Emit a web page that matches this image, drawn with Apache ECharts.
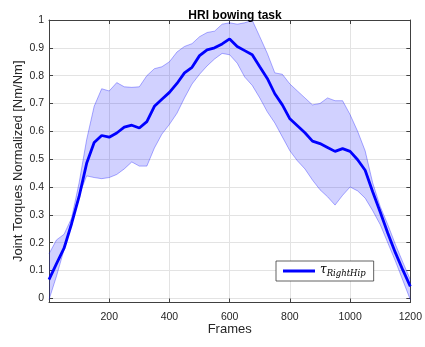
<!DOCTYPE html>
<html>
<head>
<meta charset="utf-8">
<script src="https://cdn.jsdelivr.net/npm/echarts@6/dist/echarts.min.js"></script>
<style>
  html, body { margin: 0; padding: 0; background: #ffffff; }
  #chart { width: 425px; height: 347px; }
</style>
</head>
<body>
<div id="chart"></div>
<script>
// Frame index of each sample
const frames = [0, 25, 50, 75, 100, 125, 150, 175, 200, 225, 250, 275, 300, 325, 350, 375,
  400, 425, 450, 475, 500, 525, 550, 575, 600, 625, 650, 675, 700, 725, 750, 775,
  800, 825, 850, 875, 900, 925, 950, 975, 1000, 1025, 1050, 1075, 1100, 1125, 1150, 1175, 1200];

// Mean normalized right-hip torque
const meanTorque = [0.067, 0.125, 0.180, 0.268, 0.366, 0.485, 0.560, 0.585, 0.579, 0.594, 0.615, 0.622, 0.612, 0.635, 0.690, 0.715,
  0.740, 0.772, 0.810, 0.830, 0.872, 0.893, 0.900, 0.914, 0.932, 0.905, 0.890, 0.875, 0.832, 0.790, 0.735, 0.695,
  0.645, 0.620, 0.595, 0.565, 0.556, 0.542, 0.528, 0.538, 0.528, 0.498, 0.460, 0.383, 0.310, 0.235, 0.165, 0.102, 0.043];

// Upper and lower edges of the spread band
const upperBound = [0.160, 0.210, 0.230, 0.288, 0.415, 0.570, 0.690, 0.753, 0.745, 0.775, 0.760, 0.758, 0.760, 0.800, 0.825, 0.832,
  0.850, 0.885, 0.905, 0.915, 0.940, 0.955, 0.960, 0.985, 0.990, 0.985, 0.990, 0.999, 0.940, 0.880, 0.810, 0.805,
  0.770, 0.745, 0.720, 0.695, 0.700, 0.720, 0.710, 0.710, 0.660, 0.600, 0.530, 0.415, 0.330, 0.265, 0.195, 0.130, 0.067];

const lowerBound = [-0.005, 0.080, 0.175, 0.280, 0.370, 0.440, 0.434, 0.430, 0.434, 0.445, 0.465, 0.490, 0.475, 0.475, 0.540, 0.590,
  0.625, 0.665, 0.720, 0.770, 0.805, 0.835, 0.860, 0.880, 0.875, 0.845, 0.795, 0.765, 0.720, 0.670, 0.630, 0.580,
  0.530, 0.494, 0.465, 0.425, 0.390, 0.365, 0.335, 0.370, 0.400, 0.386, 0.360, 0.315, 0.265, 0.200, 0.135, 0.065, -0.005];

const xTicks = [200, 400, 600, 800, 1000, 1200];
const yTicks = [0, 0.1, 0.2, 0.3, 0.4, 0.5, 0.6, 0.7, 0.8, 0.9, 1];

const seriesName = 'tauRightHip';
const FONT = '"Liberation Sans", Arial, sans-serif';
const AXIS_COLOR = '#404040';
const TEXT_COLOR = '#262626';
const GRID_COLOR = '#e3e3e3';

const pairs = (ys) => frames.map((f, i) => [f, ys[i]]);
const bandData = frames.map((f, i) => [f, lowerBound[i], upperBound[i]]);

// Draws the whole spread band as one polygon: upper edge forward, lower edge back
function renderBand(params, api) {
  if (params.dataIndexInside !== 0) return null;
  const pts = [];
  for (let i = 0; i < frames.length; i++) pts.push(api.coord([frames[i], upperBound[i]]));
  for (let i = frames.length - 1; i >= 0; i--) pts.push(api.coord([frames[i], lowerBound[i]]));
  return {
    type: 'polygon',
    shape: { points: pts },
    style: { fill: 'rgba(0,0,255,0.18)', stroke: 'none' },
    silent: true
  };
}

const chart = echarts.init(document.getElementById('chart'), null, { renderer: 'canvas' });

chart.setOption({
  animation: false,
  backgroundColor: '#ffffff',
  title: {
    text: 'HRI bowing task',
    left: 230, top: 5, textAlign: 'center',
    textStyle: { fontFamily: FONT, fontSize: 12, fontWeight: 'bold', color: '#000' }
  },
  grid: { left: 49, right: 14, top: 20, bottom: 44.5, containLabel: false },
  legend: {
    left: 276, top: 261,
    data: [{ name: seriesName, icon: 'rect' }],
    itemWidth: 32, itemHeight: 3, itemGap: 0,
    padding: [3, 8, 3, 7],
    backgroundColor: '#ffffff',
    borderColor: '#3a3a3a', borderWidth: 0.8, borderRadius: 0,
    formatter: () => '{t|τ}{s|RightHip}',
    textStyle: {
      rich: {
        t: { fontFamily: '"DejaVu Serif", serif', fontStyle: 'italic', fontSize: 12, color: '#000', lineHeight: 14, verticalAlign: 'top' },
        s: { fontFamily: '"DejaVu Serif", serif', fontStyle: 'italic', fontSize: 8.5, color: '#000', lineHeight: 10, padding: [5, 0, 0, 0], verticalAlign: 'top' }
      }
    }
  },
  xAxis: [{
    type: 'value', min: 0, max: 1200, interval: 200,
    name: 'Frames', nameLocation: 'middle', nameGap: 20, nameMoveOverlap: false,
    nameTextStyle: { fontFamily: FONT, fontSize: 13, color: TEXT_COLOR },
    axisLine: { show: true, onZero: false, lineStyle: { color: AXIS_COLOR, width: 1 } },
    axisTick: { show: true, inside: true, length: 4, lineStyle: { color: AXIS_COLOR } },
    axisLabel: {
      fontFamily: FONT, fontSize: 10.5, color: TEXT_COLOR, margin: 9,
      formatter: (v) => (xTicks.indexOf(v) >= 0 ? String(v) : '')
    },
    splitLine: { show: true, lineStyle: { color: GRID_COLOR, width: 1 } }
  }, {
    type: 'value', min: 0, max: 1200, interval: 200, position: 'top',
    axisLine: { show: true, onZero: false, lineStyle: { color: AXIS_COLOR, width: 1 } },
    axisTick: { show: true, inside: true, length: 4, lineStyle: { color: AXIS_COLOR } },
    axisLabel: { show: false }, splitLine: { show: false }
  }],
  yAxis: [{
    type: 'value', min: -0.015, max: 1,
    name: 'Joint Torques Normalized [Nm/Nm]', nameLocation: 'middle', nameGap: 24, nameMoveOverlap: false,
    nameTextStyle: { fontFamily: FONT, fontSize: 13, color: TEXT_COLOR },
    axisLine: { show: true, onZero: false, lineStyle: { color: AXIS_COLOR, width: 1 } },
    axisTick: { show: true, inside: true, length: 4, customValues: yTicks, lineStyle: { color: AXIS_COLOR } },
    axisLabel: { fontFamily: FONT, fontSize: 10.5, color: TEXT_COLOR, margin: 5, customValues: yTicks },
    splitLine: { show: true, lineStyle: { color: GRID_COLOR, width: 1 } }
  }, {
    type: 'value', min: -0.015, max: 1, position: 'right',
    axisLine: { show: true, onZero: false, lineStyle: { color: AXIS_COLOR, width: 1 } },
    axisTick: { show: true, inside: true, length: 4, customValues: yTicks, lineStyle: { color: AXIS_COLOR } },
    axisLabel: { show: false }, splitLine: { show: false }
  }],
  series: [
    {
      name: 'band', type: 'custom', data: bandData,
      renderItem: renderBand, encode: { x: 0, y: [1, 2] },
      silent: true, clip: true, z: 1
    },
    {
      name: 'upperEdge', type: 'line', data: pairs(upperBound),
      symbol: 'none', silent: true, lineStyle: { color: 'rgba(0,0,255,0.4)', width: 0.8 }, z: 2
    },
    {
      name: 'lowerEdge', type: 'line', data: pairs(lowerBound),
      symbol: 'none', silent: true, lineStyle: { color: 'rgba(0,0,255,0.4)', width: 0.8 }, z: 2
    },
    {
      name: seriesName, type: 'line', data: pairs(meanTorque),
      symbol: 'none', lineStyle: { color: '#0000ff', width: 2.8 }, itemStyle: { color: '#0000ff' }, z: 3
    }
  ]
});
</script>
</body>
</html>
